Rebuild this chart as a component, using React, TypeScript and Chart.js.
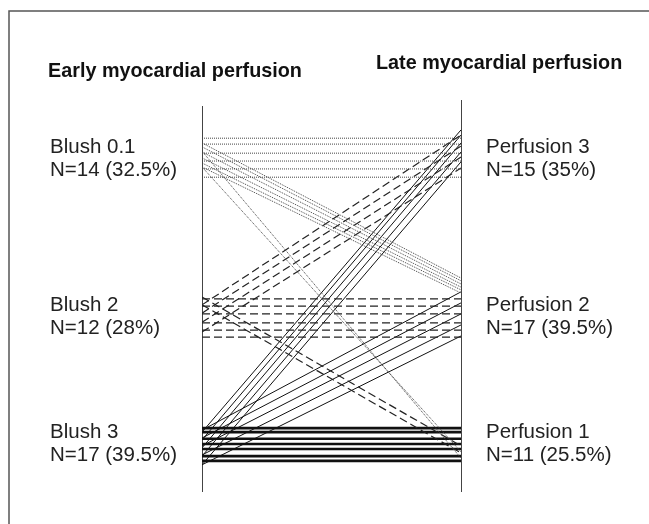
import React, { useEffect, useRef } from "react";
import Chart from "chart.js/auto";

// Axis positions: 0 = early (left), 1 = late (right); y = relative level 0..100
const leftTitle = "Early myocardial perfusion";
const rightTitle = "Late myocardial perfusion";
const leftLabels = ["Blush 0.1", "Blush 2", "Blush 3"];
const leftCounts = ["N=14 (32.5%)", "N=12 (28%)", "N=17 (39.5%)"];
const rightLabels = ["Perfusion 3", "Perfusion 2", "Perfusion 1"];
const rightCounts = ["N=15 (35%)", "N=17 (39.5%)", "N=11 (25.5%)"];
const labelLevels = [87.6, 47.5, 15.2];

// [early level, late level] per patient
const blush01ToPerf3: [number, number][] = [
  [89.8, 89.8], [88.3, 88.3], [86.0, 86.0], [84.0, 84.0], [82.0, 82.0], [79.9, 79.9],
];
const blush01ToPerf2: [number, number][] = [
  [88.6, 54.3], [87.6, 53.6], [86.3, 52.8], [84.8, 52.0], [83.5, 51.3], [82.5, 50.5],
];
const blush01ToPerf1: [number, number][] = [
  [86.5, 8.6], [82.5, 10.2],
];
const blush2ToPerf2: [number, number][] = [
  [49.0, 49.0], [47.2, 47.2], [45.2, 45.2], [42.9, 42.9], [41.1, 41.1], [39.3, 39.3],
];
const blush2ToPerf3: [number, number][] = [
  [47.5, 90.6], [45.4, 87.8], [43.1, 85.0], [40.6, 82.2],
];
const blush2ToPerf1: [number, number][] = [
  [49.5, 11.7], [47.5, 9.9],
];
const blush3ToPerf1: [number, number][] = [
  [16.2, 16.2], [15.2, 15.2], [13.5, 13.5], [12.2, 12.2], [10.9, 10.9], [9.1, 9.1], [7.9, 7.9],
];
const blush3ToPerf3: [number, number][] = [
  [15.2, 91.9], [13.2, 90.6], [11.2, 88.6], [9.1, 86.3], [6.9, 83.8],
];
const blush3ToPerf2: [number, number][] = [
  [15.7, 50.8], [13.7, 48.0], [11.7, 45.2], [9.4, 42.4], [6.9, 39.6],
];

type Style = { color: string; width: number; dash: number[] };
const dotted: Style = { color: "#444", width: 1, dash: [1, 1] };
const dashed: Style = { color: "#222", width: 1.2, dash: [8, 4] };
const solidThin: Style = { color: "#111", width: 1, dash: [] };
const solidThick: Style = { color: "#111", width: 2.6, dash: [] };

function makeSets(pairs: [number, number][], s: Style) {
  return pairs.map(([a, b]) => ({
    data: [
      { x: 0, y: a },
      { x: 1, y: b },
    ],
    borderColor: s.color,
    borderWidth: s.width,
    borderDash: s.dash,
    pointRadius: 0,
    fill: false,
    tension: 0,
  }));
}

const decor = {
  id: "decor",
  beforeDatasetsDraw(chart: any) {
    const { ctx, chartArea } = chart;
    const xs = chart.scales.x;
    ctx.save();
    // frame
    ctx.strokeStyle = "#555";
    ctx.lineWidth = 1.5;
    ctx.beginPath();
    ctx.moveTo(9, 524);
    ctx.lineTo(9, 11);
    ctx.lineTo(649, 11);
    ctx.stroke();
    // axes
    ctx.strokeStyle = "#444";
    ctx.lineWidth = 1;
    const lx = Math.round(xs.getPixelForValue(0)) + 0.5;
    const rx = Math.round(xs.getPixelForValue(1)) + 0.5;
    ctx.beginPath();
    ctx.moveTo(lx, chartArea.top + 8);
    ctx.lineTo(lx, chartArea.bottom);
    ctx.moveTo(rx, chartArea.top + 2);
    ctx.lineTo(rx, chartArea.bottom);
    ctx.stroke();
    ctx.restore();
  },
  afterDraw(chart: any) {
    const { ctx } = chart;
    const ys = chart.scales.y;
    const xs = chart.scales.x;
    ctx.save();
    ctx.fillStyle = "#111";
    ctx.textBaseline = "middle";
    ctx.textAlign = "left";
    ctx.font = "bold 19.8px 'Liberation Sans', Arial, sans-serif";
    ctx.fillText(leftTitle, 48, 72);
    ctx.fillText(rightTitle, 376, 64);
    ctx.fillStyle = "#222";
    ctx.font = "20.5px 'Liberation Sans', Arial, sans-serif";
    const rx = xs.getPixelForValue(1) + 25;
    labelLevels.forEach((lv, i) => {
      const py = ys.getPixelForValue(lv);
      ctx.fillText(leftLabels[i], 50, py);
      ctx.fillText(leftCounts[i], 50, py + 23);
      ctx.fillText(rightLabels[i], rx, py);
      ctx.fillText(rightCounts[i], rx, py + 23);
    });
    ctx.restore();
  },
};

export default function App() {
  const ref = useRef<HTMLCanvasElement>(null);
  useEffect(() => {
    if (!ref.current) return;
    const datasets = [
      ...makeSets(blush01ToPerf3, dotted),
      ...makeSets(blush01ToPerf2, dotted),
      ...makeSets(blush01ToPerf1, dotted),
      ...makeSets(blush2ToPerf2, dashed),
      ...makeSets(blush2ToPerf3, dashed),
      ...makeSets(blush2ToPerf1, dashed),
      ...makeSets(blush3ToPerf1, solidThick),
      ...makeSets(blush3ToPerf3, solidThin),
      ...makeSets(blush3ToPerf2, solidThin),
    ];
    const chart = new Chart(ref.current, {
      type: "line",
      data: { datasets },
      options: {
        animation: false,
        responsive: false,
        devicePixelRatio: 1,
        layout: { padding: { left: 202, right: 188, top: 98, bottom: 32 } },
        plugins: { legend: { display: false }, tooltip: { enabled: false } },
        scales: {
          x: { type: "linear", min: 0, max: 1, display: false },
          y: { type: "linear", min: 0, max: 100, display: false },
        },
      },
      plugins: [decor],
    });
    return () => chart.destroy();
  }, []);
  return (
    <div style={{ position: "absolute", left: 0, top: 0, width: 649, height: 524, background: "#fff" }}>
      <canvas ref={ref} width={649} height={524} style={{ display: "block" }} />
    </div>
  );
}
